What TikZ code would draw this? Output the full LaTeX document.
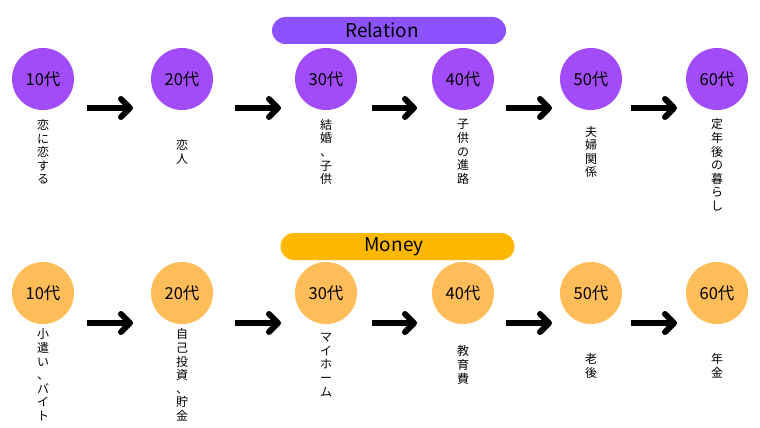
\documentclass[tikz,border=0pt]{standalone}
\usepackage{fontspec}
\setmainfont{Noto Sans CJK JP}
\usetikzlibrary{arrows.meta}
\definecolor{relcirc}{HTML}{A24CF9}
\definecolor{relbar}{HTML}{8C52FF}
\definecolor{moncirc}{HTML}{FFBD59}
\definecolor{monbar}{HTML}{FFB800}

\begin{document}
\begin{tikzpicture}[x=1pt,y=-1pt,
  age/.style={circle,minimum size=62pt,inner sep=0pt,font=\fontsize{16.5}{16.5}\selectfont},
  rel/.style={age,fill=relcirc},
  mon/.style={age,fill=moncirc},
  vlabel/.style={align=center,inner sep=0pt,font=\fontsize{12}{13.6}\selectfont},
  bar/.style={rounded corners=13.5pt,minimum height=27pt,minimum width=234pt,inner sep=0pt,font=\fontsize{19}{19}\selectfont},
  flow/.style={line width=6pt,-{Straight Barb[round,length=9pt,width=18pt]}}]
\useasboundingbox (0,0) rectangle (760,428);

\node [bar,fill=relbar] (relation) at (389,30.5) {\hspace*{-14pt}Relation};
\node [rel] (r1) at (43,79) {10代};
\node [rel] (r2) at (182,79) {20代};
\node [rel] (r3) at (326,79) {30代};
\node [rel] (r4) at (463,79) {40代};
\node [rel] (r5) at (591,79) {50代};
\node [rel] (r6) at (717,79) {60代};
\node [vlabel] (rl1) at (43,152) {恋\\に\\恋\\す\\る};
\node [vlabel] (rl2) at (182,152) {恋\\人};
\node [vlabel] (rl3) at (326,152) {結\\婚\\、\\子\\供};
\node [vlabel] (rl4) at (463,152) {子\\供\\の\\進\\路};
\node [vlabel] (rl5) at (591,152) {夫\\婦\\関\\係};
\node [vlabel] (rl6) at (717,165) {定\\年\\後\\の\\暮\\ら\\し};

\node [bar,fill=monbar] (money) at (397.5,246.5) {\hspace*{-7pt}Money};
\node [mon] (m1) at (43,293) {10代};
\node [mon] (m2) at (182,293) {20代};
\node [mon] (m3) at (326,293) {30代};
\node [mon] (m4) at (463,293) {40代};
\node [mon] (m5) at (591,293) {50代};
\node [mon] (m6) at (717,293) {60代};
\node [vlabel] (ml1) at (43,375) {小\\遣\\い\\、\\バ\\イ\\ト};
\node [vlabel] (ml2) at (182,375) {自\\己\\投\\資\\、\\貯\\金};
\node [vlabel] (ml3) at (326,365) {マ\\イ\\ホ\\ー\\ム};
\node [vlabel] (ml4) at (463,365) {教\\育\\費};
\node [vlabel] (ml5) at (591,366) {老\\後};
\node [vlabel] (ml6) at (717,366) {年\\金};

\coordinate (ra1) at (87,108);  \coordinate (rb1) at (133,108);
\coordinate (ra2) at (235,108); \coordinate (rb2) at (281,108);
\coordinate (ra3) at (372,108); \coordinate (rb3) at (417,108);
\coordinate (ra4) at (506,108); \coordinate (rb4) at (552,108);
\coordinate (ra5) at (631,108); \coordinate (rb5) at (677,108);
\coordinate (ma1) at (87,323);  \coordinate (mb1) at (133,323);
\coordinate (ma2) at (235,323); \coordinate (mb2) at (281,323);
\coordinate (ma3) at (372,323); \coordinate (mb3) at (417,323);
\coordinate (ma4) at (506,323); \coordinate (mb4) at (552,323);
\coordinate (ma5) at (631,323); \coordinate (mb5) at (677,323);
\path[flow] (ra1) edge (rb1) (ra2) edge (rb2) (ra3) edge (rb3) (ra4) edge (rb4) (ra5) edge (rb5);
\path[flow] (ma1) edge (mb1) (ma2) edge (mb2) (ma3) edge (mb3) (ma4) edge (mb4) (ma5) edge (mb5);
\end{tikzpicture}
\end{document}
